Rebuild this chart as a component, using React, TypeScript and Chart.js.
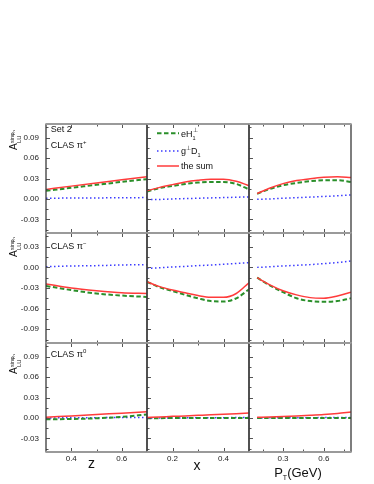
import React, { useEffect, useRef } from 'react';
import { Chart, registerables } from 'chart.js';

Chart.register(...registerables);

const FONT = '"Liberation Sans", Arial, Helvetica, sans-serif';

// ---- kinematic grids ----
const Z_GRID = [0.3, 0.4, 0.5, 0.6, 0.7];
const X_GRID = [0.1, 0.15, 0.2, 0.25, 0.3, 0.35, 0.4, 0.45, 0.5];
const PT_GRID = [0.11, 0.2, 0.3, 0.4, 0.5, 0.6, 0.7, 0.8];

// ---- CLAS pi+ ----
const PIP_Z_SUM = [0.014, 0.0188, 0.0235, 0.028, 0.0326];
const PIP_Z_EH = [0.012, 0.0163, 0.0207, 0.025, 0.029];
const PIP_Z_GD = [0.001, 0.0013, 0.0015, 0.0017, 0.002];

const PIP_X_SUM = [0.012, 0.017, 0.021, 0.025, 0.0275, 0.029, 0.029, 0.026, 0.0194];
const PIP_X_EH = [0.011, 0.016, 0.019, 0.022, 0.024, 0.025, 0.025, 0.022, 0.014];
const PIP_X_GD = [-0.001, -0.0007, 0.0, 0.0005, 0.001, 0.0015, 0.002, 0.0025, 0.003];

const PIP_PT_SUM = [0.008, 0.0157, 0.0225, 0.027, 0.0297, 0.0317, 0.0325, 0.0316];
const PIP_PT_EH = [0.0075, 0.0145, 0.02, 0.0235, 0.026, 0.0274, 0.0274, 0.025];
const PIP_PT_GD = [-0.0005, 0.0, 0.001, 0.0018, 0.0027, 0.0036, 0.0046, 0.0058];

// ---- CLAS pi- ----
const PIM_Z_SUM = [-0.024, -0.03, -0.034, -0.037, -0.038];
const PIM_Z_EH = [-0.027, -0.033, -0.038, -0.041, -0.043];
const PIM_Z_GD = [0.001, 0.002, 0.0025, 0.0035, 0.004];

const PIM_X_SUM = [-0.021, -0.028, -0.033, -0.037, -0.041, -0.0435, -0.0436, -0.038, -0.0223];
const PIM_X_EH = [-0.021, -0.029, -0.0344, -0.04, -0.045, -0.049, -0.0497, -0.045, -0.032];
const PIM_X_GD = [-0.0014, -0.0005, 0.0005, 0.0015, 0.0025, 0.0035, 0.0045, 0.0057, 0.0068];

const PIM_PT_SUM = [-0.015, -0.025, -0.034, -0.04, -0.044, -0.0448, -0.0415, -0.036];
const PIM_PT_EH = [-0.015, -0.026, -0.036, -0.045, -0.049, -0.05, -0.049, -0.045];
const PIM_PT_GD = [0.0, 0.0008, 0.002, 0.003, 0.004, 0.0055, 0.007, 0.0093];

// ---- CLAS pi0 ----
const PI0_Z_SUM = [0.001, 0.003, 0.005, 0.007, 0.009];
const PI0_Z_EH = [-0.002, -0.0015, -0.0005, 0.0015, 0.005];
const PI0_Z_GD = [0.0, 0.0002, 0.0004, 0.0006, 0.0008];

const PI0_X_SUM = [0.0008, 0.0015, 0.0023, 0.003, 0.0038, 0.0046, 0.0055, 0.0063, 0.0072];
const PI0_X_EH = [-0.0003, -0.0003, -0.0002, -0.0002, -0.0001, -0.0001, 0.0, 0.0, 0.0];
const PI0_X_GD = [-0.0002, -0.0001, 0.0, 0.0001, 0.0002, 0.0003, 0.0004, 0.0005, 0.0006];

const PI0_PT_SUM = [0.001, 0.0015, 0.0022, 0.003, 0.0039, 0.005, 0.0066, 0.0088];
const PI0_PT_EH = [0.0, 0.0, -0.0001, -0.0002, -0.0002, -0.0002, -0.0002, -0.0002];
const PI0_PT_GD = [0.0, 0.0001, 0.0002, 0.0003, 0.0004, 0.0005, 0.0006, 0.0007];

// ---- axes / ticks ----
const Z_TICKS = [0.4, 0.6];
const X_TICKS = [0.2, 0.4];
const PT_TICKS = [0.3, 0.6];
const Y_TICKS_POS = [-0.03, 0.0, 0.03, 0.06, 0.09];
const Y_TICKS_NEG = [-0.09, -0.06, -0.03, 0.0, 0.03];

const X_AXES = [
  { min: 0.3, max: 0.7, ticks: Z_TICKS, step: 0.2, grid: Z_GRID },
  { min: 0.1, max: 0.5, ticks: X_TICKS, step: 0.2, grid: X_GRID },
  { min: 0.05, max: 0.8, ticks: PT_TICKS, step: 0.3, grid: PT_GRID },
];
const Y_AXES = [
  { min: -0.05, max: 0.11, ticks: Y_TICKS_POS, step: 0.03 },
  { min: -0.11, max: 0.05, ticks: Y_TICKS_NEG, step: 0.03 },
  { min: -0.05, max: 0.11, ticks: Y_TICKS_POS, step: 0.03 },
];

const DATA = [
  [[PIP_Z_SUM, PIP_Z_EH, PIP_Z_GD], [PIP_X_SUM, PIP_X_EH, PIP_X_GD], [PIP_PT_SUM, PIP_PT_EH, PIP_PT_GD]],
  [[PIM_Z_SUM, PIM_Z_EH, PIM_Z_GD], [PIM_X_SUM, PIM_X_EH, PIM_X_GD], [PIM_PT_SUM, PIM_PT_EH, PIM_PT_GD]],
  [[PI0_Z_SUM, PI0_Z_EH, PI0_Z_GD], [PI0_X_SUM, PI0_X_EH, PI0_X_GD], [PI0_PT_SUM, PI0_PT_EH, PI0_PT_GD]],
];

const PANEL_LABEL = 'CLAS π';
const PANEL_SUPS = ['+', '−', '0'];
const SET_LABEL = 'Set 2';

const COLOR_SUM = '#ff3b3b';
const COLOR_EH = '#2a8f2a';
const COLOR_GD = '#3b3bff';

// ---- layout (screen px) ----
const COL_L = [46, 147, 249];
const COL_R = [147, 249, 351];
const ROW_T = [124, 233, 343];
const ROW_B = [233, 343, 452];
const Y_TITLE_OFF = [26, 24, 31];
const LABEL_BASE = [23.5, 15.5, 14];

type Part = { t: string; size: number; dy?: number; adv?: boolean };

function drawRich(ctx: CanvasRenderingContext2D, x: number, y: number, parts: Part[]) {
  let cx = x;
  for (const p of parts) {
    ctx.font = `${p.size}px ${FONT}`;
    ctx.fillText(p.t, cx, y + (p.dy || 0));
    if (p.adv !== false) cx += ctx.measureText(p.t).width;
  }
  return cx;
}

function tickList(min: number, max: number, major: number[], step: number) {
  const out: { v: number; major: boolean }[] = [];
  const half = step / 2;
  for (let v = major[0]; v >= min - 1e-9; v -= half) out.push({ v, major: false });
  for (let v = major[0] + half; v <= max + 1e-9; v += half) out.push({ v, major: false });
  out.forEach((o) => {
    o.major = major.some((m) => Math.abs(m - o.v) < 1e-9);
  });
  return out;
}

function makePlugin(r: number, c: number) {
  return {
    id: 'panelDecor' + r + c,
    afterDatasetsDraw(chart: any) {
      const ctx: CanvasRenderingContext2D = chart.ctx;
      const a = chart.chartArea;
      const xs = chart.scales.x;
      const ys = chart.scales.y;
      const xa = X_AXES[c];
      const ya = Y_AXES[r];
      ctx.save();
      // inner ticks
      ctx.strokeStyle = '#555';
      ctx.lineWidth = 1;
      ctx.beginPath();
      for (const t of tickList(xa.min, xa.max, xa.ticks, xa.step)) {
        const px = Math.round(xs.getPixelForValue(t.v)) + 0.5;
        if (px < a.left + 2 || px > a.right - 2) continue;
        const len = t.major ? 4 : 2.5;
        ctx.moveTo(px, a.bottom);
        ctx.lineTo(px, a.bottom - len);
        ctx.moveTo(px, a.top);
        ctx.lineTo(px, a.top + len);
      }
      for (const t of tickList(ya.min, ya.max, ya.ticks, ya.step)) {
        const py = Math.round(ys.getPixelForValue(t.v)) + 0.5;
        if (py < a.top + 2 || py > a.bottom - 2) continue;
        const len = t.major ? 4 : 2.5;
        ctx.moveTo(a.left, py);
        ctx.lineTo(a.left + len, py);
      }
      ctx.stroke();
      // frame
      ctx.strokeStyle = '#3a3a3a';
      ctx.lineWidth = 1.3;
      ctx.beginPath();
      ctx.moveTo(a.left, a.top);
      ctx.lineTo(a.left, a.bottom);
      ctx.moveTo(a.right, a.top);
      ctx.lineTo(a.right, a.bottom);
      ctx.stroke();
      ctx.strokeStyle = '#9a9a9a';
      ctx.lineWidth = 2;
      ctx.beginPath();
      ctx.moveTo(a.left - 0.6, a.top);
      ctx.lineTo(a.right + 0.6, a.top);
      ctx.moveTo(a.left - 0.6, a.bottom);
      ctx.lineTo(a.right + 0.6, a.bottom);
      ctx.stroke();

      ctx.fillStyle = '#111';
      ctx.textBaseline = 'alphabetic';
      ctx.textAlign = 'left';
      // panel labels
      if (c === 0) {
        if (r === 0) drawRich(ctx, a.left + 4.7, a.top + 7.5, [{ t: SET_LABEL, size: 9 }]);
        drawRich(ctx, a.left + 4.7, a.top + LABEL_BASE[r], [
          { t: PANEL_LABEL, size: 9 },
          { t: PANEL_SUPS[r], size: 6, dy: -4 },
        ]);
        // y title
        ctx.save();
        ctx.translate(17, a.top + Y_TITLE_OFF[r]);
        ctx.rotate(-Math.PI / 2);
        ctx.font = `10px ${FONT}`;
        ctx.fillText('A', 0, 0);
        const aw = ctx.measureText('A').width + 0.3;
        drawRich(ctx, aw, 0, [{ t: 'LU', size: 6, dy: 4.2 }]);
        drawRich(ctx, aw, 0, [
          { t: 'sinφ', size: 5.5, dy: -3.2 },
          { t: 'h', size: 4, dy: -2 },
        ]);
        ctx.restore();
      }
      // legend
      if (r === 0 && c === 1) {
        const lx0 = a.left + 10;
        const lx1 = a.left + 32;
        const tx = a.left + 34;
        const items = [
          { y: 9.3, color: COLOR_EH, dash: [4.5, 2.5], w: 2, base: 12.5, parts: [{ t: 'eH', size: 9 }, { t: '⊥', size: 5.5, dy: -4.5, adv: false }, { t: '1', size: 5.5, dy: 3 }] },
          { y: 27, color: COLOR_GD, dash: [1.5, 2.5], w: 1.5, base: 30, parts: [{ t: 'g', size: 9 }, { t: '⊥', size: 5.5, dy: -4.5 }, { t: 'D', size: 9 }, { t: '1', size: 5.5, dy: 3 }] },
          { y: 42, color: COLOR_SUM, dash: [], w: 1.5, base: 44.5, parts: [{ t: 'the sum', size: 9 }] },
        ];
        for (const it of items) {
          ctx.strokeStyle = it.color;
          ctx.lineWidth = it.w;
          ctx.setLineDash(it.dash);
          ctx.beginPath();
          ctx.moveTo(lx0, a.top + it.y);
          ctx.lineTo(lx1, a.top + it.y);
          ctx.stroke();
          ctx.setLineDash([]);
          ctx.fillStyle = '#111';
          drawRich(ctx, tx, a.top + it.base, it.parts as Part[]);
        }
      }
      // x titles
      if (r === 2) {
        const cx = (a.left + a.right) / 2;
        ctx.textAlign = 'left';
        if (c === 0) {
          ctx.font = `14px ${FONT}`;
          const w = ctx.measureText('z').width;
          ctx.fillText('z', cx - 5 - w / 2, a.bottom + 16);
        } else if (c === 1) {
          ctx.font = `14px ${FONT}`;
          const w = ctx.measureText('x').width;
          ctx.fillText('x', cx - 1 - w / 2, a.bottom + 18);
        } else {
          const parts: Part[] = [
            { t: 'P', size: 13 },
            { t: 'T', size: 7, dy: 3 },
            { t: '(GeV)', size: 13 },
          ];
          let w = 0;
          for (const p of parts) {
            ctx.font = `${p.size}px ${FONT}`;
            w += ctx.measureText(p.t).width;
          }
          drawRich(ctx, cx - 2 - w / 2, a.bottom + 25, parts);
        }
      }
      ctx.restore();
    },
  };
}

function geometry(r: number, c: number) {
  const padL = c === 0 ? 46 : 4;
  const padR = 4;
  const padT = 4;
  const padB = r === 2 ? 32 : 4;
  return {
    padL, padR, padT, padB,
    left: COL_L[c] - padL,
    top: ROW_T[r] - padT,
    w: COL_R[c] - COL_L[c] + padL + padR,
    h: ROW_B[r] - ROW_T[r] + padT + padB,
  };
}

function zeroPad(s: any) {
  s.paddingTop = 0;
  s.paddingBottom = 0;
  s.paddingLeft = 0;
  s.paddingRight = 0;
}

function makeConfig(r: number, c: number): any {
  const g = geometry(r, c);
  const xa = X_AXES[c];
  const ya = Y_AXES[r];
  const [sum, eh, gd] = DATA[r][c];
  const pts = (arr: number[]) => arr.map((v, i) => ({ x: xa.grid[i], y: v }));
  const showX = r === 2;
  const showY = c === 0;
  return {
    type: 'line',
    data: {
      datasets: [
        { label: 'the sum', data: pts(sum), borderColor: COLOR_SUM, borderWidth: 1.5, pointRadius: 0, cubicInterpolationMode: 'monotone', fill: false },
        { label: 'eH', data: pts(eh), borderColor: COLOR_EH, borderWidth: 2, borderDash: [4.5, 2.5], pointRadius: 0, cubicInterpolationMode: 'monotone', fill: false },
        { label: 'gD', data: pts(gd), borderColor: COLOR_GD, borderWidth: 1.5, borderDash: [1.5, 2.5], pointRadius: 0, cubicInterpolationMode: 'monotone', fill: false },
      ],
    },
    options: {
      responsive: false,
      animation: false,
      devicePixelRatio: 1,
      layout: {
        padding: {
          left: showY ? 0 : g.padL,
          right: g.padR,
          top: g.padT,
          bottom: showX ? 0 : g.padB,
        },
      },
      plugins: { legend: { display: false }, tooltip: { enabled: false }, title: { display: false } },
      scales: {
        x: {
          type: 'linear',
          min: xa.min,
          max: xa.max,
          display: showX,
          grid: { display: false, drawTicks: false },
          border: { display: false },
          afterBuildTicks: (s: any) => {
            s.ticks = xa.ticks.map((v) => ({ value: v }));
          },
          afterFit: (s: any) => {
            s.height = showX ? 32 : 0;
            zeroPad(s);
          },
          ticks: {
            font: { family: FONT, size: 8 },
            color: '#222',
            padding: 2,
            maxRotation: 0,
            autoSkip: false,
            callback: (v: any) => Number(v).toFixed(1),
          },
        },
        y: {
          type: 'linear',
          min: ya.min,
          max: ya.max,
          display: showY,
          grid: { display: false, drawTicks: false },
          border: { display: false },
          afterBuildTicks: (s: any) => {
            s.ticks = ya.ticks.map((v) => ({ value: v }));
          },
          afterFit: (s: any) => {
            s.width = showY ? 46 : 0;
            zeroPad(s);
          },
          ticks: {
            font: { family: FONT, size: 8 },
            color: '#222',
            padding: 7,
            autoSkip: false,
            callback: (v: any) => Number(v).toFixed(2),
          },
        },
      },
    },
    plugins: [makePlugin(r, c)],
  };
}

function Panel({ r, c }: { r: number; c: number }) {
  const ref = useRef<HTMLCanvasElement>(null);
  const g = geometry(r, c);
  useEffect(() => {
    if (!ref.current) return;
    const chart = new Chart(ref.current, makeConfig(r, c));
    return () => chart.destroy();
  }, [r, c]);
  return (
    <canvas
      ref={ref}
      width={g.w}
      height={g.h}
      style={{ position: 'absolute', left: g.left, top: g.top, width: g.w, height: g.h }}
    />
  );
}

export default function App() {
  const panels: JSX.Element[] = [];
  for (let r = 0; r < 3; r++) for (let c = 0; c < 3; c++) panels.push(<Panel key={`${r}-${c}`} r={r} c={c} />);
  return (
    <div style={{ position: 'absolute', left: 0, top: 0, width: 374, height: 484, background: '#fff' }}>
      {panels}
    </div>
  );
}
